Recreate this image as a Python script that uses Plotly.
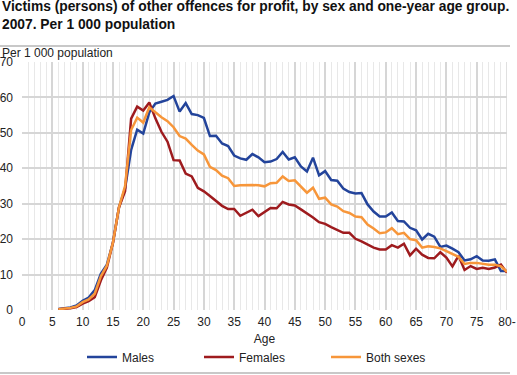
import plotly.graph_objects as go

ages = list(range(6, 81))

males = [0.3, 0.4, 0.7, 1.3, 2.6, 3.5, 5.6, 10.2, 12.8, 19.0, 29.0, 34.3, 45.2, 50.9, 49.8,
         55.8, 58.3, 58.8, 59.3, 60.4, 56.0, 58.4, 55.3, 55.0, 54.2, 49.1, 49.2, 47.0, 46.3,
         43.6, 42.8, 42.4, 44.0, 43.1, 41.7, 41.9, 42.6, 44.6, 42.5, 43.1, 40.5, 39.1, 43.0,
         38.0, 39.2, 36.7, 36.5, 34.3, 33.3, 32.9, 33.0, 29.8, 27.8, 26.4, 26.4, 27.5, 25.1,
         25.0, 23.2, 22.5, 19.9, 21.5, 20.7, 17.8, 18.2, 17.3, 16.3, 14.0, 14.3, 15.2, 14.0,
         13.9, 14.3, 11.0, 11.0]

females = [0.2, 0.3, 0.5, 0.8, 1.8, 2.5, 3.6, 8.3, 12.0, 19.0, 29.0, 33.5, 54.0, 57.4, 56.3,
           58.6, 54.1, 50.3, 47.5, 42.3, 42.2, 38.5, 37.7, 34.5, 33.5, 32.2, 30.8, 29.4, 28.5,
           28.5, 26.6, 27.5, 28.3, 26.5, 27.6, 28.8, 28.7, 30.5, 29.8, 29.5, 28.4, 27.3, 26.1,
           24.8, 24.3, 23.4, 22.5, 21.8, 21.8, 20.1, 19.4, 18.4, 17.6, 17.1, 17.1, 18.3, 17.6,
           18.7, 15.4, 17.3, 15.6, 14.7, 14.6, 16.3, 14.8, 12.3, 15.3, 11.3, 12.4, 11.6, 11.9,
           11.6, 12.0, 12.8, 10.5]

both = [0.2, 0.3, 0.6, 1.0, 2.2, 3.0, 4.6, 9.5, 12.5, 19.0, 29.0, 35.0, 50.8, 54.3, 52.9,
        57.2, 55.8, 54.4, 53.3, 51.6, 49.1, 48.4, 46.6, 45.0, 43.9, 40.4, 39.5, 37.9, 37.2,
        35.0, 35.2, 35.3, 35.3, 35.2, 34.9, 35.8, 35.9, 37.7, 36.4, 36.6, 34.7, 33.1, 34.5,
        31.4, 31.7, 29.8, 29.2, 27.9, 27.4, 26.4, 26.2, 24.1, 23.0, 21.7, 21.9, 23.1, 21.4,
        21.8, 20.0, 19.7, 17.6, 18.0, 17.8, 17.4, 16.6, 15.8, 15.0, 13.0, 13.3, 13.3, 13.0,
        12.8, 12.8, 12.3, 10.8]

tick_vals = list(range(0, 81, 5))
tick_text = [str(v) for v in tick_vals[:-1]] + ["80-"]

series = [("Males", males, "#23449b", "legend"),
          ("Females", females, "#9e1b1e", "legend2"),
          ("Both sexes", both, "#f7963a", "legend3")]

FONT = "Liberation Sans, Arial, sans-serif"
W, H = 517, 375
ML, MR, MT, MB = 22, 10, 62, 65
PW = W - ML - MR
PH = H - MT - MB

def px(x):
    return (x - ML) / PW

def py(y):
    return (H - MB - y) / PH

fig = go.Figure()
for name, vals, color, lg in series:
    fig.add_trace(go.Scatter(x=ages, y=vals, name=name, mode="lines",
                             line=dict(color=color, width=2.5), legend=lg))

legend_common = dict(orientation="h", yanchor="middle", xanchor="left",
                     font=dict(size=12, color="#222"), bgcolor="rgba(0,0,0,0)",
                     borderwidth=0)

fig.update_layout(
    width=W, height=H,
    margin=dict(l=ML, r=MR, t=MT, b=MB, autoexpand=False),
    paper_bgcolor="white", plot_bgcolor="white",
    font=dict(family=FONT, size=12, color="#222"),
    showlegend=True,
    legend=dict(x=px(82), y=py(357), **legend_common),
    legend2=dict(x=px(199), y=py(357), **legend_common),
    legend3=dict(x=px(326), y=py(357), **legend_common),
    xaxis=dict(range=[0, 80], tickmode="array", tickvals=tick_vals, ticktext=tick_text,
               showgrid=True, gridcolor="#d6d6d6", gridwidth=1.5,
               minor=dict(dtick=1, showgrid=True, gridcolor="#e8e8e8", gridwidth=1),
               zeroline=False, showline=False, ticks="", automargin=False,
               tickfont=dict(size=12, color="#222"), ticklabelstandoff=3,
               title=dict(text="Age", font=dict(size=12, color="#222"), standoff=6)),
    yaxis=dict(range=[0, 70], dtick=10, showgrid=True, gridcolor="#d6d6d6", gridwidth=2,
               zeroline=False, showline=False, ticks="", automargin=False,
               tickfont=dict(size=12, color="#222"), ticklabelstandoff=8),
    annotations=[
        dict(xref="paper", yref="paper", x=px(0), y=py(-3), xanchor="left", yanchor="top",
             text="<b>Victims (persons) of other offences for profit, by sex and one-year age group.</b><br><b>2007. Per 1 000 population</b>",
             showarrow=False, align="left", font=dict(size=13.8, color="#111", family=FONT)),
        dict(xref="paper", yref="paper", x=px(0), y=py(53), xanchor="left", yanchor="middle",
             text="Per 1 000 population", showarrow=False,
             font=dict(size=12, color="#222", family=FONT)),
    ],
    shapes=[
        dict(type="line", xref="paper", yref="paper", x0=px(0), x1=px(510), y0=py(46), y1=py(46),
             line=dict(color="#c8c8c8", width=2)),
        dict(type="line", xref="paper", yref="paper", x0=px(0), x1=px(510), y0=py(373), y1=py(373),
             line=dict(color="#c8c8c8", width=2)),
        dict(type="line", xref="x", yref="paper", x0=80, x1=80, y0=0, y1=1,
             line=dict(color="#d6d6d6", width=1.5), layer="below"),
    ],
)

fig.write_html("out.html", config={"displayModeBar": False},
               post_script="document.body.style.margin='0';document.body.style.overflow='hidden';")
